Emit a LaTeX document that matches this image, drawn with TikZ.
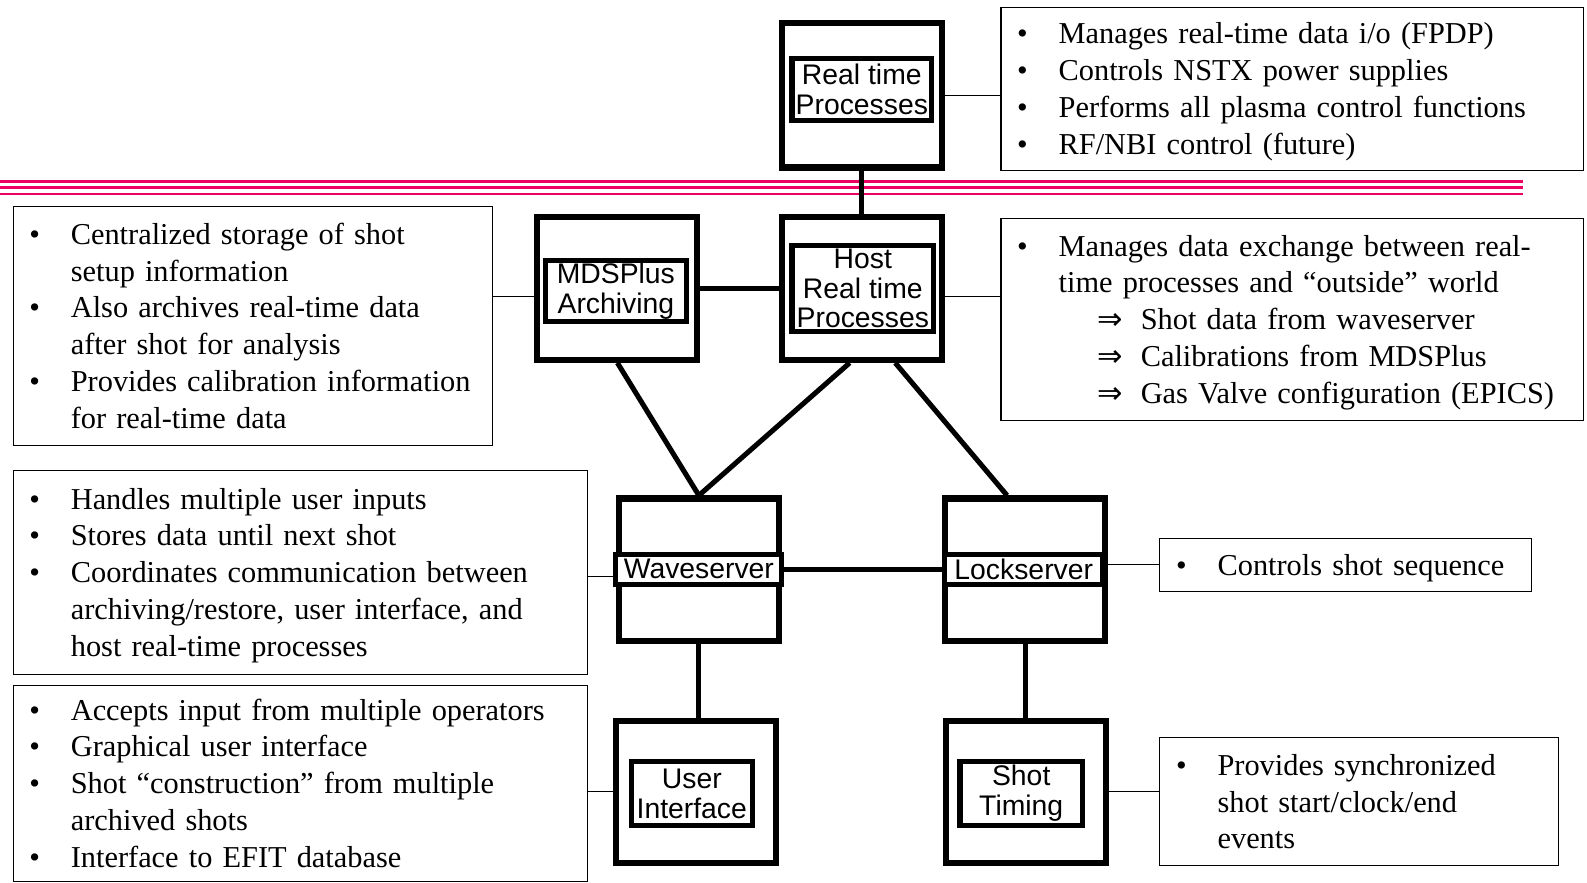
\documentclass[tikz,border=0pt]{standalone}
\usepackage{fontspec}
\setmainfont{Liberation Serif}
\newfontfamily\boxfont{Liberation Sans}
\newfontfamily\symfont{DejaVu Sans}
\usepackage{xcolor}
\usepackage{tikz}
\usetikzlibrary{positioning}
\definecolor{fucsia}{RGB}{236,0,100}
\newsavebox{\listbox}
\newenvironment{bulletlist}{\begin{lrbox}{\listbox}\begin{tabular}{@{}p{41pt}@{}l@{}}}%
  {\end{tabular}\end{lrbox}\raisebox{-3pt}[\height][\depth]{\usebox{\listbox}}}
\newcommand{\arr}{\hspace*{38pt}{\symfont ⇒}\hspace{18pt}}

\begin{document}
\begin{tikzpicture}[
	x=1pt,y=-1pt,
	unitbox/.style={draw,line width=6pt,inner sep=0pt,minimum width=158pt,minimum height=141pt},
	namebox/.style={draw,fill=white,line width=5pt,inner sep=0pt,align=center,
		font=\boxfont\fontsize{28}{29.5}\selectfont},
	infobox/.style={draw,line width=1pt,anchor=north west,inner xsep=16pt,inner ysep=0pt,
		align=left,font=\fontsize{30}{36.4}\selectfont},
	link/.style={line width=5pt},
	thinlink/.style={line width=1pt},
	pinkrule/.style={fucsia,line width=2.5pt}]
  \useasboundingbox (0,0) rectangle (1568,872);
  \foreach \y in {179.5,185.5,191.5}
    \draw[pinkrule] (0,\y) -- (1505,\y);

  \node[unitbox,minimum height=143pt] (rt) at (851.5,94) {};
  \node[unitbox] (mds) at (610,285) {};
  \node[unitbox] (host) at (851.5,285) {};
  \node[unitbox] (wave) at (690.5,563) {};
  \node[unitbox] (lock) at (1013,563) {};
  \node[unitbox] (ui) at (687.5,782.5) {};
  \node[unitbox] (shot) at (1013.5,782.5) {};

  \node[namebox,minimum width=138pt,minimum height=62pt] (rtname) at (851.5,88.5) {Real time\\Processes};
  \node[namebox,minimum width=140pt,minimum height=60pt] (mdsname) at (608.5,287.5) {MDSPlus\\Archiving};
  \node[namebox,minimum width=140pt,minimum height=85pt] (hostname) at (852.5,285) {Host\\Real time\\Processes};
  \node[namebox,minimum width=164pt,minimum height=30pt] (wavename) at (690.5,562.5) {Waveserver};
  \node[namebox,minimum width=156pt,minimum height=30pt] (lockname) at (1011.5,562.5) {Lockserver};
  \node[namebox,minimum width=120pt,minimum height=63pt] (uiname) at (683.5,784) {User\\Interface};
  \node[namebox,minimum width=121pt,minimum height=63pt] (shotname) at (1009,784) {Shot\\Timing};

  \node[infobox,text width=544pt,minimum width=576pt,minimum height=161pt] (rtinfo) at (988.5,6.5) {%
    \begin{bulletlist}
      \textbullet & Manages real-time data i/o (FPDP)\\
      \textbullet & Controls NSTX power supplies\\
      \textbullet & Performs all plasma control functions\\
      \textbullet & RF/NBI control (future)
    \end{bulletlist}};
  \node[infobox,text width=442pt,minimum width=474pt,minimum height=236pt] (mdsinfo) at (12.5,203.5) {%
    \begin{bulletlist}
      \textbullet & Centralized storage of shot\\
                  & setup information\\
      \textbullet & Also archives real-time data\\
                  & after shot for analysis\\
      \textbullet & Provides calibration information\\
                  & for real-time data
    \end{bulletlist}};
  \node[infobox,text width=544pt,minimum width=576pt,minimum height=199pt] (hostinfo) at (988.5,215.5) {%
    \begin{bulletlist}
      \textbullet & Manages data exchange between real-\\
                  & time processes and “outside” world\\
                  & \arr Shot data from waveserver\\
                  & \arr Calibrations from MDSPlus\\
                  & \arr Gas Valve configuration (EPICS)
    \end{bulletlist}};
  \node[infobox,text width=535pt,minimum width=567pt,minimum height=201pt] (waveinfo) at (12.5,464.5) {%
    \begin{bulletlist}
      \textbullet & Handles multiple user inputs\\
      \textbullet & Stores data until next shot\\
      \textbullet & Coordinates communication between\\
                  & archiving/restore, user interface, and\\
                  & host real-time processes
    \end{bulletlist}};
  \node[infobox,text width=335pt,minimum width=367pt,minimum height=52pt] (lockinfo) at (1145.5,531.5) {%
    \begin{bulletlist}
      \textbullet & Controls shot sequence
    \end{bulletlist}};
  \node[infobox,text width=535pt,minimum width=567pt,minimum height=194pt] (uiinfo) at (12.5,676.5) {%
    \begin{bulletlist}
      \textbullet & Accepts input from multiple operators\\
      \textbullet & Graphical user interface\\
      \textbullet & Shot “construction” from multiple\\
                  & archived shots\\
      \textbullet & Interface to EFIT database
    \end{bulletlist}};
  \node[infobox,text width=362pt,minimum width=394pt,minimum height=126pt] (shotinfo) at (1145.5,728.5) {%
    \begin{bulletlist}
      \textbullet & Provides synchronized\\
                  & shot start/clock/end\\
                  & events
    \end{bulletlist}};

  \draw[link] (rt) -- (host);
  \draw[link] (mds) -- (host);
  \draw[link] (wave) -- (lock);
  \draw[link] (wave.south) -- (wave.south |- ui.north);
  \draw[link] (lock.south) -- (lock.south |- shot.north);
  \draw[link] (mds.south) -- (wave.north);
  \draw[link] ([xshift=-12pt]host.south) -- (wave.north);
  \draw[link] ([xshift=33pt]host.south) -- ([xshift=-18pt]lock.north);

  \draw[thinlink] (rt.east) -- (rt.east -| rtinfo.west);
  \draw[thinlink] ([yshift=-8pt]mds.west) -- ([yshift=-8pt]mds.west -| mdsinfo.east);
  \draw[thinlink] ([yshift=-8pt]host.east) -- ([yshift=-8pt]host.east -| hostinfo.west);
  \draw[thinlink] ([yshift=-7pt]wave.west) -- ([yshift=-7pt]wave.west -| waveinfo.east);
  \draw[thinlink] ([yshift=5pt]lock.east) -- ([yshift=5pt]lock.east -| lockinfo.west);
  \draw[thinlink] (ui.west) -- (ui.west -| uiinfo.east);
  \draw[thinlink] (shot.east) -- (shot.east -| shotinfo.west);
\end{tikzpicture}
\end{document}
